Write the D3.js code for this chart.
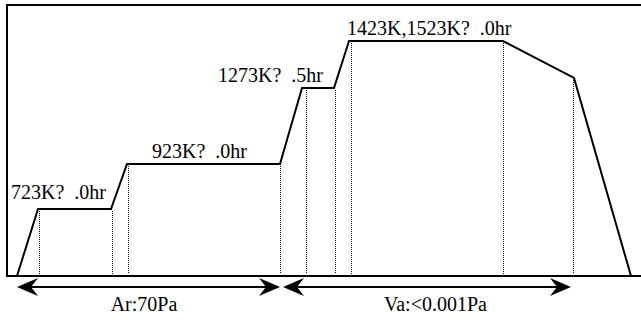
<!DOCTYPE html>
<html>
<head>
  <script src="https://d3js.org/d3.v7.min.js"></script>
  <style>
    body { margin: 0; background: #fff; }
  </style>
</head>
<body>
  <script>
    // heat treatment profile (schematic time units / temperature K)
    var times = [0, 2.1, 9.4, 11.0, 26.3, 28.5, 31.7, 33.2, 48.6, 55.7, 61.4];
    var temps = [300, 723, 723, 923, 923, 1273, 1273, 1423, 1423, 1305, 300];

    // dotted markers: time and temperature where they start
    var markTimes = [2.2, 9.5, 11.1, 26.3, 28.9, 31.8, 33.4, 48.6, 55.6];
    var markTemps = [723, 723, 923, 923, 1273, 1273, 1423, 1423, 1305];

    var labels = ["723K?  .0hr", "923K?  .0hr", "1273K?  .5hr", "1423K,1523K?  .0hr"];
    var labelTimes = [-0.6, 13.5, 20.1, 33.0];
    var labelTemps = [723, 923, 1273, 1423];

    var atmos = ["Ar:70Pa", "Va:<0.001Pa"];
    var atmosFrom = [0, 26.6];
    var atmosTo = [26.3, 55.4];
    var atmosMid = [12.7, 41.85];

    var W = 641, H = 320;
    var FONT = "Liberation Serif, DejaVu Serif";
    var svg = d3.select("body").append("svg")
      .attr("width", W).attr("height", H);

    var x = d3.scaleLinear().domain([0, 61.4]).range([17, 631]);
    var y = d3.scaleLinear()
      .domain([300, 723, 923, 1273, 1423])
      .range([276, 209, 164, 88, 41]);

    // frame
    svg.append("rect")
      .attr("x", 7).attr("y", 5)
      .attr("width", 700).attr("height", 271)
      .attr("fill", "none").attr("stroke", "#000").attr("stroke-width", 2);

    // dotted markers
    svg.selectAll(".mark").data(markTimes).enter().append("line")
      .attr("x1", function(d) { return Math.round(x(d)) + 0.5; })
      .attr("x2", function(d) { return Math.round(x(d)) + 0.5; })
      .attr("y1", function(d, i) { return y(markTemps[i]) + 2; })
      .attr("y2", 274)
      .attr("stroke", "#000").attr("stroke-width", 1)
      .attr("shape-rendering", "crispEdges")
      .attr("stroke-dasharray", "1,1");

    // profile
    var line = d3.line()
      .x(function(d) { return x(d[0]); })
      .y(function(d) { return y(d[1]); });
    svg.append("path")
      .datum(d3.zip(times, temps))
      .attr("d", line)
      .attr("fill", "none").attr("stroke", "#000").attr("stroke-width", 2);

    // labels (the first one sits a little higher above its step)
    svg.selectAll(".lbl").data(labels).enter().append("text")
      .attr("class", "lbl")
      .style("font-family", FONT)
      .style("font-size", "20px")
      .style("white-space", "pre")
      .attr("x", function(d, i) { return x(labelTimes[i]); })
      .attr("y", function(d, i) { return y(labelTemps[i]) - (i === 0 ? 10 : 6); })
      .text(function(d) { return d; });

    // atmosphere arrows
    var arrowY = 287;
    function head(tipX, dir) {
      // dir = +1 points right, -1 points left
      return "M" + tipX + "," + arrowY +
        "L" + (tipX - dir * 21) + "," + (arrowY - 9) +
        "L" + (tipX - dir * 14) + "," + arrowY +
        "L" + (tipX - dir * 21) + "," + (arrowY + 9) + "Z";
    }
    atmos.forEach(function(name, i) {
      var x0 = x(atmosFrom[i]), x1 = x(atmosTo[i]);
      svg.append("line")
        .attr("x1", x0 + 5).attr("x2", x1 - 5)
        .attr("y1", arrowY).attr("y2", arrowY)
        .attr("stroke", "#000").attr("stroke-width", 2);
      svg.append("path").attr("d", head(x0, -1)).attr("fill", "#000");
      svg.append("path").attr("d", head(x1, 1)).attr("fill", "#000");
      svg.append("text")
        .style("font-family", FONT)
        .style("font-size", "20px")
        .attr("x", x(atmosMid[i]))
        .attr("y", 311)
        .attr("text-anchor", "middle")
        .text(name);
    });
  </script>
</body>
</html>
